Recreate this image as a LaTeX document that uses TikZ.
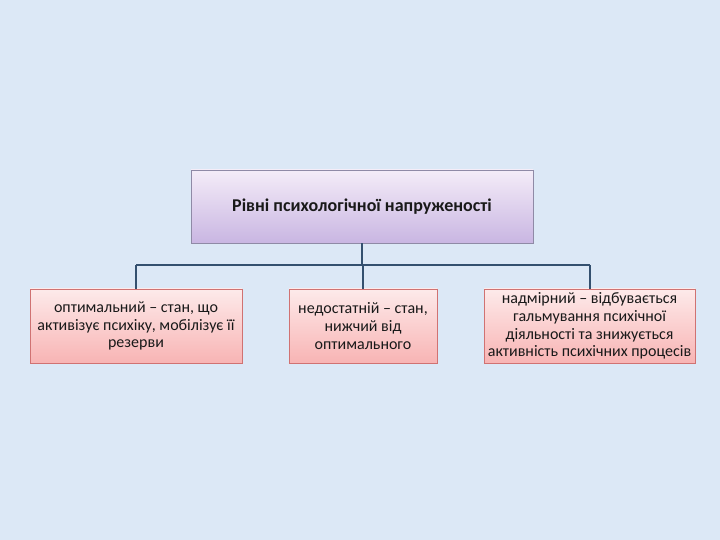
\documentclass[tikz,border=0pt]{standalone}
\usepackage{fontspec}
\setmainfont{Carlito}
\definecolor{bgc}{HTML}{DCE8F6}
\definecolor{toptop}{HTML}{F4ECF8}
\definecolor{topbot}{HTML}{C9B6E2}
\definecolor{topedge}{HTML}{8F8AA6}
\definecolor{lowtop}{HTML}{FDEAEA}
\definecolor{lowbot}{HTML}{F8B4B4}
\definecolor{lowedge}{HTML}{D07272}
\definecolor{connc}{HTML}{34506F}
\begin{document}
\begin{tikzpicture}[x=1pt,y=1pt,
  topbox/.style={draw=topedge, line width=0.8pt, top color=toptop, bottom color=topbot, minimum width=342pt, minimum height=73pt, inner sep=0pt, font=\fontsize{18}{20}\selectfont\bfseries, text=black!90},
  lowbox/.style={draw=lowedge, line width=0.8pt, top color=lowtop, bottom color=lowbot, minimum height=74pt, inner xsep=0pt, inner ysep=2pt, align=center, font=\fontsize{16}{17.8}\selectfont, text=black!90},
  conn/.style={draw=connc, line width=2pt}]
\useasboundingbox (0,0) rectangle (720,540);
\fill[bgc] (0,0) rectangle (720,540);
\node[topbox] (top) at (362,333.5) {Рівні психологічної напруженості};
\node[lowbox, minimum width=212pt] (left) at (136,214) {оптимальний – стан, що\\активізує психіку, мобілізує її\\резерви};
\node[lowbox, minimum width=148pt] (mid) at (363,214) {недостатній – стан,\\нижчий від\\оптимального};
\node[lowbox, minimum width=211pt] (right) at (589.5,214) {надмірний – відбувається\\гальмування психічної\\діяльності та знижується\\активність психічних процесів};
\coordinate (j) at (362,275);
\draw[conn] (top.south) -- (top.south |- j);
\draw[conn] (left.north |- j) -- (right.north |- j);
\draw[conn] (left.north |- j) -- (left.north);
\draw[conn] (mid.north |- j) -- (mid.north);
\draw[conn] (right.north |- j) -- (right.north);
\end{tikzpicture}
\end{document}
